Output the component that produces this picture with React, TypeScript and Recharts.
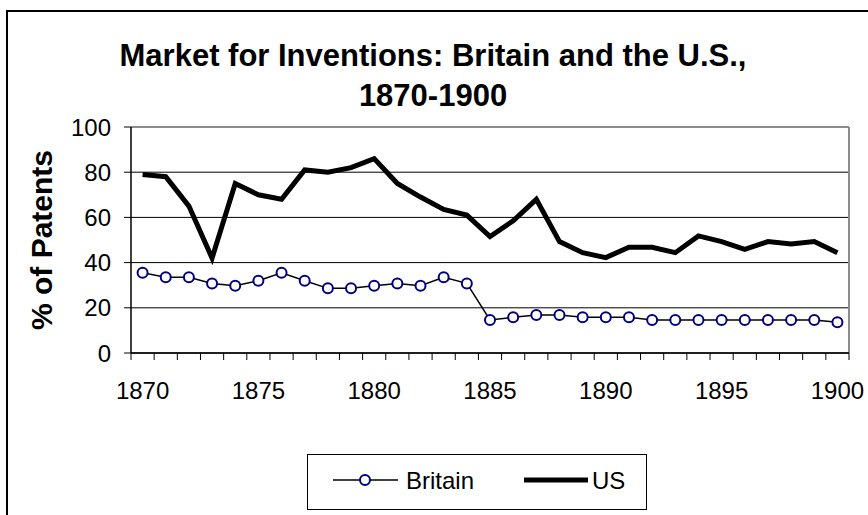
import React from 'react'
import { LineChart, Line, XAxis, YAxis, CartesianGrid, ReferenceLine, Legend } from 'recharts'

const years = [
  1870, 1871, 1872, 1873, 1874, 1875, 1876, 1877, 1878, 1879, 1880,
  1881, 1882, 1883, 1884, 1885, 1886, 1887, 1888, 1889, 1890,
  1891, 1892, 1893, 1894, 1895, 1896, 1897, 1898, 1899, 1900,
]
const britain = [
  35.5, 33.5, 33.5, 30.8, 29.8, 32, 35.5, 32, 28.6, 28.6, 29.8,
  30.8, 29.8, 33.5, 30.8, 14.6, 15.8, 16.8, 16.8, 15.8, 15.8,
  15.8, 14.6, 14.6, 14.6, 14.6, 14.6, 14.6, 14.6, 14.6, 13.6,
]
const us = [
  79, 78, 65, 42, 75, 70, 68, 81, 80, 82, 86,
  75, 69, 63.5, 61, 51.5, 58.5, 68, 49.3, 44.4, 42.2,
  46.8, 46.8, 44.4, 51.8, 49.3, 45.9, 49.3, 48.2, 49.3, 44.4,
]
const yTicks = [0, 20, 40, 60, 80, 100]

const data = years.map((year, i) => ({ year, Britain: britain[i], US: us[i] }))
// tick marks sit between the years, like an Excel category axis
const xTicks = [...years.map(y => y - 0.5), years[years.length - 1] + 0.5]

const FONT = '"Liberation Sans", Arial, sans-serif'
const PLOT_LEFT = 131
const PLOT_RIGHT = 849
const HALF = (PLOT_RIGHT - PLOT_LEFT) / years.length / 2

const XTick = (props: any) => {
  const { x, y, payload } = props
  const year = payload.value + 0.5
  if (year % 5 !== 0) return <g />
  return (
    <text x={x + HALF} y={y} dy={37} textAnchor="middle" fontSize={24} fill="#000" fontFamily={FONT}>
      {year}
    </text>
  )
}

const LegendBox = (props: any) => {
  const items = props.payload || []
  const brit = items.find((p: any) => p.value === 'Britain')
  const usItem = items.find((p: any) => p.value === 'US')
  return (
    <svg width={340} height={56} style={{ display: 'block' }}>
      <rect x={0.5} y={0.5} width={339} height={55} fill="#fff" stroke="#000" strokeWidth={1} />
      <line x1={26} x2={91} y1={26} y2={26} stroke="#000" strokeWidth={1.5} />
      <circle cx={58} cy={26} r={5} fill="#fff" stroke="#000080" strokeWidth={2} />
      <text x={99} y={35} fontSize={24} fontFamily={FONT} fill="#000">{brit ? brit.value : 'Britain'}</text>
      <line x1={217} x2={281} y1={26} y2={26} stroke="#000" strokeWidth={5} />
      <text x={285} y={35} fontSize={24} fontFamily={FONT} fill="#000">{usItem ? usItem.value : 'US'}</text>
    </svg>
  )
}

export default function App() {
  return (
    <div style={{ position: 'fixed', left: 0, top: 0, width: 868, height: 515, overflow: 'hidden', background: '#fff', fontFamily: FONT }}>
      <div style={{ position: 'absolute', left: 6, top: 10, width: 900, height: 600, border: '2px solid #000' }} />
      <div style={{ position: 'absolute', left: 0, top: 36, width: 866, textAlign: 'center', fontSize: 31, fontWeight: 'bold', lineHeight: '40px', color: '#000' }}>
        Market for Inventions: Britain and the U.S.,
        <br />
        1870-1900
      </div>
      <div style={{ position: 'absolute', left: 0, top: 0 }}>
        <LineChart width={868} height={515} data={data} margin={{ top: 127, right: 868 - PLOT_RIGHT, bottom: 122, left: PLOT_LEFT - 60 }}>
          <CartesianGrid vertical={false} stroke="#000" strokeWidth={1} />
          <XAxis
            dataKey="year"
            type="number"
            domain={[years[0] - 0.5, years[years.length - 1] + 0.5]}
            ticks={xTicks}
            interval={0}
            height={40}
            tickSize={7}
            axisLine={{ stroke: '#000', strokeWidth: 1.5 }}
            tickLine={{ stroke: '#000' }}
            tick={<XTick />}
          />
          <YAxis
            width={60}
            domain={[0, 100]}
            ticks={yTicks}
            interval={0}
            tickSize={7}
            tickMargin={13}
            axisLine={{ stroke: '#000', strokeWidth: 1.5 }}
            tickLine={{ stroke: '#000' }}
            tick={{ fontSize: 24, fill: '#000', fontFamily: FONT }}
            label={{ value: '% of Patents', angle: -90, position: 'center', dx: -60, style: { fontSize: 30, fontWeight: 'bold', fill: '#000', fontFamily: FONT } }}
          />
          <ReferenceLine y={100} stroke="#8c8c8c" strokeWidth={2} />
          <ReferenceLine x={years[years.length - 1] + 0.5} stroke="#8c8c8c" strokeWidth={2} />
          <Line dataKey="US" name="US" stroke="#000" strokeWidth={5} dot={false} isAnimationActive={false} />
          <Line
            dataKey="Britain"
            name="Britain"
            stroke="#000"
            strokeWidth={1.5}
            dot={{ r: 5, fill: '#fff', stroke: '#000080', strokeWidth: 2 }}
            isAnimationActive={false}
          />
          <Legend
            layout="vertical"
            align="center"
            verticalAlign="middle"
            content={<LegendBox />}
            wrapperStyle={{ left: 307, top: 454, width: 340, height: 56 }}
          />
        </LineChart>
      </div>
    </div>
  )
}
